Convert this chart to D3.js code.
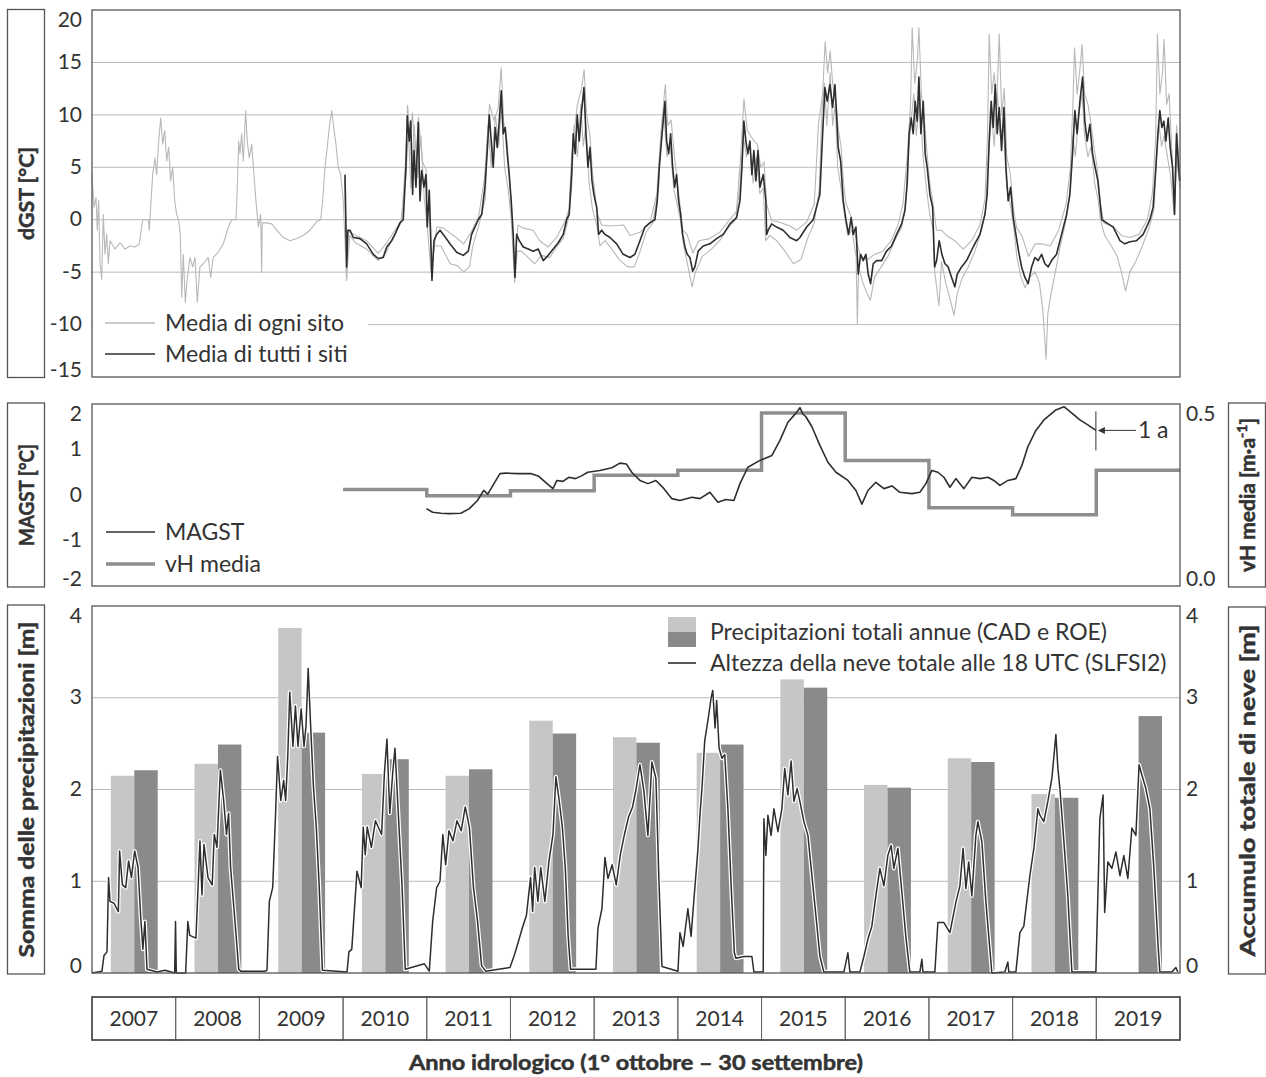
<!DOCTYPE html>
<html lang="it">
<head>
<meta charset="UTF-8" />
<title>dGST, MAGST, vH e precipitazioni 2007-2019</title>
<style>
  body { margin: 0; background: #fff; }
  svg { display: block; }
</style>
</head>
<body>
<svg id="chart" width="1266" height="1077"></svg>
<script src="https://cdn.jsdelivr.net/npm/d3@7"></script>
<script>
// ---- data (time = decimal calendar year, hydrological year starts 1 Oct) ----
const years = [2007, 2008, 2009, 2010, 2011, 2012, 2013, 2014, 2015, 2016, 2017, 2018, 2019];
const precipCAD = [2.15, 2.28, 3.76, 2.17, 2.15, 2.75, 2.57, 2.40, 3.20, 2.05, 2.34, 1.95, null];
const precipROE = [2.21, 2.49, 2.62, 2.33, 2.22, 2.61, 2.51, 2.49, 3.11, 2.02, 2.30, 1.91, 2.80];

const vhYears = [2010, 2011, 2012, 2013, 2014, 2015, 2016, 2017, 2018, 2019];
const vhMedia = [0.265, 0.248, 0.262, 0.304, 0.318, 0.475, 0.345, 0.215, 0.196, 0.318];

const dgstTicks = [-15, -10, -5, 0, 5, 10, 15, 20];
const magstTicks = [-2, -1, 0, 1, 2];
const vhTicks = [0, 0.5];
const precipTicks = [0, 1, 2, 3, 4];

// daily mean of one site (single record before 2009, then one of the sites)
const dgstSite1 = [
  [2006.750,4.3],[2006.774,1.2],[2006.798,2.1],[2006.813,-1.0],[2006.830,1.8],[2006.846,-4.2],[2006.866,-5.7],
  [2006.885,0.5],[2006.905,-3.3],[2006.926,-1.4],[2006.945,-4.2],[2006.965,-2.0],[2007.025,-2.8],[2007.085,-2.2],
  [2007.144,-2.8],[2007.204,-2.5],[2007.264,-2.6],[2007.315,-2.3],[2007.356,0],[2007.423,0],[2007.435,-1.0],
  [2007.451,1.2],[2007.475,4.3],[2007.503,5.9],[2007.523,4.3],[2007.547,7.5],[2007.571,9.7],[2007.595,7.2],
  [2007.619,8.5],[2007.642,5.6],[2007.666,6.9],[2007.690,3.7],[2007.714,5.0],[2007.738,1.8],[2007.762,0.5],
  [2007.786,-0.1],[2007.805,-1.4],[2007.822,-7.4],[2007.841,-3.3],[2007.865,-7.9],[2007.889,-5.5],[2007.921,-3.6],
  [2007.953,-4.5],[2007.981,-3.6],[2008.008,-7.9],[2008.040,-4.5],[2008.080,-4.2],[2008.139,-3.6],[2008.168,-5.5],
  [2008.199,-3.6],[2008.259,-3.1],[2008.319,-2.3],[2008.379,-0.7],[2008.419,0],[2008.470,0],[2008.486,3.1],
  [2008.503,7.5],[2008.518,6.3],[2008.538,8.2],[2008.558,5.6],[2008.586,10.4],[2008.605,7.5],[2008.629,5.9],
  [2008.658,7.2],[2008.685,4.3],[2008.709,1.8],[2008.737,-0.7],[2008.765,0.5],[2008.777,-5.0],[2008.785,-0.3],
  [2008.837,-0.3],[2008.897,-0.4],[2008.957,-1.0],[2009.035,-1.7],[2009.116,-2.0],[2009.196,-1.8],[2009.274,-1.5],
  [2009.354,-1.0],[2009.434,-0.2],[2009.482,0],[2009.506,1.8],[2009.534,5.0],[2009.561,6.9],[2009.585,8.8],
  [2009.614,10.4],[2009.638,8.8],[2009.665,7.2],[2009.692,5.0],[2009.721,4.3],[2009.752,1.8],[2009.793,-5.7],
  [2009.80,-1.0],[2009.90,-1.5],[2010.03,-2.0],[2010.17,-3.2],[2010.27,-2.2],[2010.37,-1.0],[2010.45,0],
  [2010.50,6],[2010.52,10.9],[2010.55,8],[2010.58,10.2],[2010.62,4],[2010.65,9.8],[2010.70,5.5],[2010.74,4.8],
  [2010.78,1],[2010.81,-4.5],[2010.87,-0.7],[2010.95,-0.8],[2011.10,-1.7],[2011.19,-2.3],[2011.28,-1.2],
  [2011.37,0.3],[2011.44,4],[2011.50,11],[2011.55,9.5],[2011.60,10.5],[2011.64,14.5],[2011.67,9.2],[2011.71,7.5],
  [2011.75,2.5],[2011.80,-4.8],[2011.84,-0.5],[2011.90,-0.8],[2012.02,-1.0],[2012.10,-2.0],[2012.20,-2.6],
  [2012.30,-1.7],[2012.40,-0.2],[2012.45,1],[2012.48,6],[2012.52,9],[2012.55,11],[2012.60,12.5],[2012.63,14.3],
  [2012.66,10],[2012.70,8],[2012.73,4.5],[2012.79,0.5],[2012.84,-0.5],[2012.94,-0.6],[2013.10,-0.5],[2013.18,-1.5],
  [2013.30,-1.2],[2013.42,-0.2],[2013.50,2.5],[2013.55,8.5],[2013.60,12.9],[2013.63,9],[2013.67,9.5],[2013.71,6],
  [2013.76,2.5],[2013.81,-1],[2013.86,-1.4],[2013.93,-3.2],[2014.00,-2.0],[2014.13,-1.8],[2014.25,-1.2],
  [2014.37,0],[2014.45,0.8],[2014.50,6],[2014.54,11.5],[2014.58,8.5],[2014.62,8],[2014.66,7.5],[2014.70,7.2],
  [2014.74,5],[2014.78,5.5],[2014.81,1.5],[2014.87,-0.1],[2014.95,-0.2],[2015.09,-0.6],[2015.17,-1.0],
  [2015.29,-0.2],[2015.38,1.5],[2015.43,9.1],[2015.48,12],[2015.51,17.0],[2015.54,14],[2015.57,16.1],
  [2015.60,13],[2015.64,11],[2015.67,8.5],[2015.70,7],[2015.73,3.5],[2015.76,1.5],[2015.81,0.5],[2015.87,-1.5],
  [2015.93,-3.5],[2016.02,-3.8],[2016.10,-3.3],[2016.20,-3.0],[2016.30,-2.0],[2016.38,-0.5],[2016.44,1.5],
  [2016.49,6],[2016.53,11],[2016.55,18.3],[2016.58,13],[2016.61,15],[2016.63,18.3],[2016.66,12],[2016.69,10],
  [2016.72,7],[2016.76,3.5],[2016.80,1.5],[2016.84,-1.0],[2016.90,-1.0],[2016.96,-1.5],[2017.06,-2.0],
  [2017.16,-2.8],[2017.26,-2.0],[2017.36,-0.5],[2017.42,2],[2017.45,8],[2017.47,17.7],[2017.50,12],[2017.53,14],
  [2017.56,11],[2017.59,17.7],[2017.62,10],[2017.65,12.5],[2017.68,6],[2017.72,4.5],[2017.76,1],[2017.80,-0.8],
  [2017.86,-1.5],[2017.94,-3.5],[2018.02,-2.3],[2018.10,-2.3],[2018.20,-2.5],[2018.30,-1.0],[2018.39,1.5],
  [2018.44,5],[2018.47,11],[2018.49,16.4],[2018.52,12],[2018.55,14],[2018.58,16.7],[2018.61,12],[2018.65,11],
  [2018.69,9],[2018.72,7],[2018.76,5],[2018.80,1.5],[2018.84,-0.3],[2018.95,-0.6],[2019.05,-1.5],[2019.15,-1.7],
  [2019.26,-1.4],[2019.36,0],[2019.42,2.5],[2019.46,8],[2019.48,17.7],[2019.51,12],[2019.54,14],[2019.56,17.2],
  [2019.59,11],[2019.62,12],[2019.65,7],[2019.68,2],[2019.71,9],[2019.748,4]
];

// a second (colder) site
const dgstSite2 = [
  [2009.77,4.0],[2009.79,-5.8],[2009.83,-1.5],[2009.90,-2.2],[2010.03,-2.8],[2010.17,-3.9],[2010.26,-3.2],
  [2010.35,-1.6],[2010.44,-0.3],[2010.50,4],[2010.53,8.5],[2010.56,3],[2010.60,9],[2010.64,4],[2010.68,8],
  [2010.72,2],[2010.76,-1],[2010.80,-5],[2010.84,-2.5],[2010.92,-2.5],[2011.03,-4.2],[2011.12,-4.4],
  [2011.19,-5.0],[2011.26,-4.5],[2011.30,-2.5],[2011.38,-0.3],[2011.45,2],[2011.48,9],[2011.52,5],[2011.57,10],
  [2011.61,7],[2011.64,11],[2011.68,5],[2011.72,3],[2011.76,0],[2011.80,-6.0],[2011.83,-3.0],[2011.88,-3.0],
  [2011.96,-3.6],[2012.04,-4.2],[2012.12,-3.4],[2012.22,-3.6],[2012.30,-2.6],[2012.38,-1.8],[2012.44,0],
  [2012.48,3],[2012.51,9],[2012.55,6],[2012.59,11],[2012.62,7],[2012.65,9],[2012.69,3.5],[2012.73,1],
  [2012.78,-0.5],[2012.82,-2.5],[2012.88,-2.0],[2012.96,-2.8],[2013.05,-3.8],[2013.15,-4.5],[2013.23,-4.5],
  [2013.30,-3.0],[2013.37,-1.2],[2013.45,-0.3],[2013.52,3],[2013.55,8],[2013.58,10.5],[2013.62,6],[2013.66,7],
  [2013.70,3],[2013.74,1.5],[2013.78,0],[2013.82,-2.5],[2013.88,-4.8],[2013.92,-6.4],[2013.96,-5.0],
  [2014.04,-3.5],[2014.15,-2.8],[2014.25,-2.0],[2014.35,-0.8],[2014.44,0],[2014.49,3],[2014.53,8],[2014.57,6],
  [2014.61,7],[2014.65,3.5],[2014.69,6],[2014.73,2.5],[2014.77,3],[2014.80,-2],[2014.85,-1.5],[2014.93,-2.0],
  [2015.03,-3.0],[2015.13,-4.2],[2015.22,-3.8],[2015.30,-1.8],[2015.38,-0.3],[2015.44,3],[2015.47,10],
  [2015.50,13],[2015.53,9],[2015.57,14],[2015.60,9],[2015.63,11],[2015.66,5],[2015.70,3],[2015.74,0.5],
  [2015.78,-1.5],[2015.83,-1.0],[2015.88,-3.5],[2015.895,-9.9],[2015.91,-4.5],[2015.96,-6.0],[2016.01,-7.0],
  [2016.05,-7.7],[2016.10,-5.5],[2016.18,-4.5],[2016.26,-3.5],[2016.34,-2.0],[2016.42,-0.8],[2016.47,1],
  [2016.50,6],[2016.53,9],[2016.57,12],[2016.60,8],[2016.64,12],[2016.68,6],[2016.72,3],[2016.76,0.5],
  [2016.80,-1],[2016.82,-5],[2016.87,-8.2],[2016.90,-4],[2016.95,-6],[2017.00,-7.5],[2017.05,-9.1],
  [2017.09,-7.0],[2017.15,-5.5],[2017.22,-4.5],[2017.30,-3.0],[2017.38,-1.0],[2017.43,1],[2017.46,6],
  [2017.50,10],[2017.53,7],[2017.57,12],[2017.60,8],[2017.64,9],[2017.68,3],[2017.72,1.5],[2017.76,-0.5],
  [2017.80,-3.5],[2017.85,-5.5],[2017.90,-6.5],[2017.95,-5.5],[2018.02,-5.0],[2018.07,-6.0],[2018.11,-8.5],
  [2018.15,-13.3],[2018.17,-9.0],[2018.21,-7.0],[2018.26,-5.0],[2018.32,-2.5],[2018.39,0],[2018.44,3],
  [2018.47,8],[2018.50,6],[2018.54,10],[2018.58,12],[2018.61,8],[2018.65,6],[2018.69,7],[2018.73,3.5],
  [2018.77,2],[2018.80,0],[2018.85,-1.5],[2018.93,-2.5],[2019.00,-3.5],[2019.05,-5.0],[2019.10,-6.8],
  [2019.15,-5.0],[2019.22,-4.0],[2019.30,-2.5],[2019.38,-0.8],[2019.44,1],[2019.47,6],[2019.50,9],[2019.53,7],
  [2019.56,8],[2019.60,6],[2019.64,4],[2019.68,0.5],[2019.71,6],[2019.748,3]
];

// mean of all sites
const dgstMean = [
  [2009.773,4.3],[2009.793,-4.5],[2009.808,-1.0],[2009.832,-1.0],[2009.872,-1.7],[2009.952,-1.8],[2010.032,-2.3],
  [2010.111,-3.3],[2010.170,-3.7],[2010.230,-3.6],[2010.271,-2.6],[2010.331,-2.0],[2010.370,-1.4],[2010.430,-0.3],
  [2010.469,0],[2010.501,5],[2010.517,9.9],[2010.541,7.5],[2010.558,9.4],[2010.581,2.4],[2010.597,6.6],
  [2010.621,3.1],[2010.648,9.3],[2010.669,1.8],[2010.689,4.7],[2010.716,3.1],[2010.740,4.3],[2010.756,-0.7],
  [2010.780,2.8],[2010.796,-1.4],[2010.812,-5.8],[2010.836,-2.0],[2010.868,-1.4],[2010.908,-1.0],[2010.947,-1.4],
  [2011.027,-2.3],[2011.107,-3.1],[2011.186,-3.4],[2011.246,-3.0],[2011.286,-1.4],[2011.365,0],[2011.406,0.5],
  [2011.445,3.1],[2011.473,6.6],[2011.497,10],[2011.520,7.5],[2011.544,5],[2011.568,8.8],[2011.592,6.9],
  [2011.616,9.4],[2011.640,12.3],[2011.664,8.2],[2011.688,8.8],[2011.712,6.3],[2011.735,4.3],[2011.759,1.8],
  [2011.783,-1.4],[2011.804,-5.5],[2011.824,-1.4],[2011.855,-2.0],[2011.903,-2.6],[2011.962,-2.8],[2012.022,-3.0],
  [2012.082,-2.8],[2012.142,-3.9],[2012.201,-3.4],[2012.261,-2.8],[2012.321,-2.2],[2012.381,-1.4],[2012.421,0],
  [2012.452,0.5],[2012.481,4.3],[2012.500,8.2],[2012.524,6.3],[2012.548,10],[2012.572,7.5],[2012.600,10.4],
  [2012.628,12.6],[2012.652,8.2],[2012.676,5],[2012.700,6.9],[2012.724,3.7],[2012.747,2.4],[2012.780,1.2],
  [2012.804,-1.4],[2012.839,-1.0],[2012.879,-1.4],[2012.939,-1.7],[2013.019,-2.3],[2013.097,-3.3],[2013.178,-3.6],
  [2013.237,-3.3],[2013.297,-2.0],[2013.357,-0.7],[2013.416,-0.3],[2013.476,0],[2013.504,1.8],[2013.528,5],
  [2013.551,7.2],[2013.575,9.4],[2013.596,11.3],[2013.616,7.5],[2013.640,6.3],[2013.664,8.2],[2013.688,5],
  [2013.712,3.1],[2013.735,4.3],[2013.759,1.8],[2013.783,0.5],[2013.807,-1.4],[2013.835,-2.6],[2013.862,-3.3],
  [2013.894,-3.6],[2013.927,-4.9],[2013.954,-4.5],[2013.993,-3.0],[2014.053,-2.5],[2014.133,-2.3],[2014.213,-1.8],
  [2014.292,-1.4],[2014.372,-0.4],[2014.452,0.2],[2014.492,1.8],[2014.516,5],[2014.539,9.4],[2014.563,7.5],
  [2014.587,6.3],[2014.611,7.5],[2014.635,4.3],[2014.659,6.6],[2014.683,3.7],[2014.707,6.6],[2014.731,3.1],
  [2014.770,4.3],[2014.802,1.8],[2014.811,-1.4],[2014.830,-1.0],[2014.870,-0.4],[2014.930,-0.7],[2015.009,-1.0],
  [2015.089,-1.7],[2015.169,-2.0],[2015.209,-1.7],[2015.289,-0.7],[2015.367,0],[2015.427,1.8],[2015.447,2.4],
  [2015.480,8.2],[2015.507,12.6],[2015.535,11.3],[2015.567,12.9],[2015.599,10.7],[2015.627,12.9],[2015.647,10],
  [2015.666,6.9],[2015.695,5.6],[2015.726,1.8],[2015.758,0],[2015.790,-1.4],[2015.821,0.2],[2015.845,-1.4],
  [2015.878,-0.7],[2015.905,-5.2],[2015.934,-3.3],[2015.965,-3.9],[2015.997,-3.3],[2016.025,-5.2],[2016.053,-6.1],
  [2016.084,-4.2],[2016.125,-3.9],[2016.185,-3.9],[2016.244,-3.0],[2016.304,-2.5],[2016.364,-1.4],[2016.424,-0.4],
  [2016.463,0.9],[2016.490,3.4],[2016.514,8.2],[2016.538,9.7],[2016.562,8.2],[2016.586,11.3],[2016.610,9.4],
  [2016.630,13.6],[2016.654,8.2],[2016.682,11.3],[2016.705,6.3],[2016.729,5],[2016.762,2.4],[2016.794,1.2],
  [2016.818,-4.5],[2016.842,-3.9],[2016.873,-2.0],[2016.905,-3.3],[2016.941,-4.2],[2016.980,-4.5],[2017.021,-5.5],
  [2017.060,-6.4],[2017.088,-5.2],[2017.140,-4.5],[2017.200,-3.9],[2017.279,-2.6],[2017.359,-1.4],[2017.419,0.5],
  [2017.446,2.4],[2017.470,7.5],[2017.494,11.3],[2017.518,8.8],[2017.542,12.9],[2017.566,8.2],[2017.590,10.7],
  [2017.618,6.6],[2017.646,10.7],[2017.670,5],[2017.697,1.8],[2017.726,3.1],[2017.757,0.2],[2017.789,-1.4],
  [2017.821,-3.0],[2017.857,-4.5],[2017.897,-5.5],[2017.936,-6.1],[2017.977,-4.5],[2018.016,-3.6],[2018.055,-3.9],
  [2018.096,-3.3],[2018.136,-4.2],[2018.175,-4.5],[2018.216,-3.9],[2018.275,-3.3],[2018.335,-1.4],[2018.395,0.5],
  [2018.434,2.4],[2018.466,6.3],[2018.494,10.4],[2018.521,8.2],[2018.554,11.3],[2018.586,13.6],[2018.613,9.4],
  [2018.641,7.5],[2018.673,9.1],[2018.705,6.3],[2018.736,5],[2018.769,3.7],[2018.793,1.8],[2018.816,0],
  [2018.873,-0.3],[2018.952,-0.7],[2019.032,-2.0],[2019.091,-2.3],[2019.151,-2.1],[2019.231,-2.0],[2019.310,-1.4],
  [2019.390,0],[2019.429,1.2],[2019.462,5],[2019.486,8.2],[2019.509,10.4],[2019.533,8.8],[2019.557,9.4],
  [2019.581,7.5],[2019.609,9.7],[2019.633,6.9],[2019.661,5],[2019.685,0.5],[2019.709,8.2],[2019.733,5],[2019.748,3.7]
];

const magst = [
  [2010.746,-0.30],[2010.820,-0.38],[2010.920,-0.40],[2011.015,-0.41],[2011.158,-0.40],[2011.259,-0.30],
  [2011.356,-0.12],[2011.430,0.10],[2011.479,0.02],[2011.553,0.25],[2011.624,0.47],[2011.696,0.48],
  [2011.839,0.47],[2011.990,0.47],[2012.088,0.41],[2012.186,0.25],[2012.258,0.14],[2012.305,0.32],
  [2012.377,0.30],[2012.449,0.39],[2012.526,0.36],[2012.599,0.42],[2012.673,0.50],[2012.819,0.54],
  [2012.962,0.60],[2013.058,0.70],[2013.136,0.68],[2013.199,0.50],[2013.258,0.39],[2013.297,0.32],
  [2013.393,0.25],[2013.488,0.32],[2013.584,0.14],[2013.679,-0.08],[2013.775,-0.12],[2013.918,-0.05],
  [2014.014,-0.08],[2014.133,0.06],[2014.229,-0.16],[2014.324,-0.10],[2014.420,-0.12],[2014.492,0.25],
  [2014.587,0.61],[2014.731,0.76],[2014.874,0.87],[2014.970,1.20],[2015.065,1.60],[2015.161,1.80],
  [2015.209,1.92],[2015.244,1.78],[2015.280,1.72],[2015.352,1.50],[2015.447,1.09],[2015.543,0.72],
  [2015.639,0.50],[2015.782,0.32],[2015.878,0.10],[2015.949,-0.20],[2016.021,0.10],[2016.116,0.28],
  [2016.212,0.14],[2016.308,0.20],[2016.403,0.06],[2016.547,0.03],[2016.642,0.06],[2016.714,0.25],
  [2016.785,0.54],[2016.857,0.50],[2016.929,0.39],[2017.001,0.17],[2017.072,0.36],[2017.168,0.14],
  [2017.263,0.39],[2017.359,0.36],[2017.455,0.39],[2017.526,0.32],[2017.598,0.21],[2017.694,0.32],
  [2017.789,0.36],[2017.861,0.65],[2017.932,1.06],[2018.028,1.42],[2018.124,1.65],[2018.267,1.87],
  [2018.363,1.94],[2018.458,1.80],[2018.554,1.65],[2018.649,1.54],[2018.745,1.42]
];

const snowDepth = [
  [2006.750,0],[2006.869,0.02],[2006.893,0.19],[2006.929,0.23],[2006.948,1.04],[2006.965,0.78],[2007.013,0.76],
  [2007.065,0.67],[2007.080,1.33],[2007.113,0.96],[2007.153,0.93],[2007.187,1.22],[2007.221,1.04],[2007.260,1.33],
  [2007.300,1.15],[2007.333,0.60],[2007.358,0.26],[2007.382,0.56],[2007.407,0.04],[2007.527,0.01],[2007.622,0.03],
  [2007.738,0],[2007.748,0.56],[2007.757,0],[2007.869,0],[2007.895,0.56],[2007.918,0.41],[2007.992,0.38],
  [2008.040,1.44],[2008.064,0.85],[2008.088,1.40],[2008.136,1.04],[2008.186,0.96],[2008.211,1.51],[2008.243,1.37],
  [2008.284,2.21],[2008.323,1.88],[2008.357,1.51],[2008.382,1.74],[2008.406,1.15],[2008.455,0.60],[2008.504,0.04],
  [2008.528,0.02],[2008.820,0.02],[2008.841,0.03],[2008.869,0.78],[2008.909,0.93],[2008.942,1.70],[2008.967,2.36],
  [2009.006,1.88],[2009.040,2.10],[2009.064,1.88],[2009.089,2.36],[2009.113,3.06],[2009.151,2.47],[2009.181,2.91],
  [2009.211,2.47],[2009.249,2.88],[2009.283,2.47],[2009.307,2.69],[2009.333,3.32],[2009.366,2.62],[2009.396,2.03],
  [2009.430,1.59],[2009.464,0.96],[2009.503,0.03],[2009.797,0.01],[2009.820,0.23],[2009.854,0.26],[2009.916,1.11],
  [2009.966,0.93],[2009.991,1.59],[2010.015,1.29],[2010.039,1.59],[2010.088,1.37],[2010.137,1.66],[2010.210,1.51],
  [2010.244,2.18],[2010.274,2.55],[2010.308,1.74],[2010.343,2.18],[2010.370,2.45],[2010.406,1.81],[2010.454,0.96],
  [2010.493,0.04],[2010.722,0.10],[2010.780,0.02],[2010.820,0.56],[2010.868,0.93],[2010.908,1.00],[2010.942,1.51],
  [2010.976,1.18],[2011.015,1.55],[2011.063,1.44],[2011.111,1.66],[2011.161,1.55],[2011.210,1.81],[2011.259,1.59],
  [2011.308,0.93],[2011.357,0.56],[2011.405,0.08],[2011.454,0.02],[2011.744,0.06],[2011.795,0.19],[2011.844,0.34],
  [2011.892,0.49],[2011.941,0.63],[2011.990,1.04],[2012.015,0.67],[2012.039,1.15],[2012.078,0.78],[2012.112,1.15],
  [2012.161,0.78],[2012.210,1.22],[2012.258,1.51],[2012.293,2.14],[2012.332,1.88],[2012.370,1.59],[2012.405,1.15],
  [2012.439,0.41],[2012.468,0.04],[2012.771,0.04],[2012.795,0.49],[2012.843,0.70],[2012.879,1.26],[2012.915,1.03],
  [2012.965,1.18],[2013.014,0.96],[2013.063,1.29],[2013.112,1.51],[2013.161,1.70],[2013.209,1.81],[2013.250,2.00],
  [2013.297,2.27],[2013.345,1.98],[2013.392,1.50],[2013.440,2.30],[2013.488,2.12],[2013.526,0.95],[2013.560,0.07],
  [2013.751,0.02],[2013.775,0.44],[2013.813,0.29],[2013.870,0.70],[2013.908,0.40],[2013.942,0.80],[2013.990,1.35],
  [2014.014,1.72],[2014.038,2.01],[2014.071,2.53],[2014.109,2.75],[2014.148,3.00],[2014.167,3.08],[2014.195,2.67],
  [2014.214,2.97],[2014.243,2.45],[2014.277,2.34],[2014.310,2.38],[2014.348,1.79],[2014.387,0.95],[2014.425,0.22],
  [2014.444,0.16],[2014.540,0.18],[2014.635,0.18],[2014.659,0.01],[2014.770,0.01],[2014.778,1.68],[2014.802,1.28],
  [2014.826,1.72],[2014.864,1.50],[2014.898,1.79],[2014.946,1.54],[2014.993,1.79],[2015.027,2.23],[2015.065,1.94],
  [2015.103,2.31],[2015.137,1.87],[2015.175,2.01],[2015.208,1.87],[2015.256,1.65],[2015.304,1.50],[2015.328,1.28],
  [2015.376,0.84],[2015.448,0.18],[2015.495,0.01],[2015.734,0.01],[2015.782,0.22],[2015.806,0.01],[2015.925,0.01],
  [2015.973,0.18],[2016.021,0.37],[2016.068,0.51],[2016.116,0.84],[2016.164,1.14],[2016.212,0.95],[2016.259,1.28],
  [2016.298,1.39],[2016.331,1.14],[2016.379,1.36],[2016.427,0.88],[2016.474,0.40],[2016.522,0.01],[2016.642,0.01],
  [2016.666,0.15],[2016.678,0.01],[2016.821,0.01],[2016.857,0.55],[2016.929,0.55],[2017.001,0.44],[2017.072,0.77],
  [2017.120,0.95],[2017.158,1.36],[2017.192,0.92],[2017.225,1.21],[2017.263,0.84],[2017.311,1.50],[2017.335,1.65],
  [2017.383,1.43],[2017.431,0.77],[2017.502,0],[2017.657,0.01],[2017.693,0.12],[2017.705,0.01],[2017.789,0.01],
  [2017.837,0.44],[2017.884,0.51],[2017.956,1.06],[2018.004,1.36],[2018.052,1.79],[2018.076,1.72],[2018.123,1.65],
  [2018.171,1.87],[2018.219,2.12],[2018.267,2.60],[2018.291,2.23],[2018.315,2.01],[2018.363,1.43],[2018.410,0.84],
  [2018.458,0.01],[2018.745,0.01],[2018.792,1.68],[2018.831,1.94],[2018.850,0.66],[2018.888,1.21],[2018.936,1.14],
  [2018.984,1.32],[2019.032,1.06],[2019.079,1.28],[2019.127,1.03],[2019.175,1.58],[2019.223,1.50],[2019.261,2.27],
  [2019.294,2.16],[2019.342,2.01],[2019.390,1.79],[2019.438,1.14],[2019.486,0.33],[2019.509,0.01],[2019.653,0.01],
  [2019.701,0.06],[2019.724,0.01]
];

// ---- layout ----
const FONT = "Lato, 'Open Sans', sans-serif";
const TXT = "#333";
const X0 = 92, X1 = 1180;
const topP = [10, 377], midP = [404, 586], botP = [606, 973];

const svg = d3.select("#chart");

const x = d3.scaleLinear().domain([2006.75, 2019.75]).range([X0, X1]);
const yT = d3.scaleLinear().domain([-15, 20]).range([topP[1], topP[0]]);
const yM = d3.scaleLinear().domain([-2, 2]).range([midP[1], midP[0]]);
const yV = d3.scaleLinear().domain([0, 0.5]).range([midP[1], midP[0]]);
const yB = d3.scaleLinear().domain([0, 4]).range([botP[1], botP[0]]);
const xBand = d3.scaleBand().domain(years).range([X0, X1]);
const bw = xBand.bandwidth();
const xSub = d3.scaleBand().domain(["CAD", "ROE"]).range([bw * 0.225, bw * 0.785]);

function grid(scale, values) {
  svg.append("g").selectAll("line").data(values).join("line")
    .attr("x1", X0).attr("x2", X1)
    .attr("y1", d => scale(d)).attr("y2", d => scale(d))
    .attr("stroke", "#b9b9b9").attr("stroke-width", 1);
}

function axis(gen, scale, ticks, fmt, xPos, range) {
  const g = svg.append("g").attr("transform", `translate(${xPos},0)`)
    .call(gen(scale).tickValues(ticks).tickSize(0).tickPadding(gen === d3.axisLeft ? 10 : 6).tickFormat(fmt));
  g.select(".domain").remove();
  // keep the end labels inside the frame
  g.selectAll(".tick").attr("transform", d =>
    `translate(0,${Math.max(range[0] + 10, Math.min(range[1] - 7, scale(d)))})`);
  g.selectAll("text").attr("font-family", FONT).attr("font-size", 21).attr("fill", TXT);
}

function frame(range) {
  svg.append("rect").attr("x", X0).attr("y", range[0])
    .attr("width", X1 - X0).attr("height", range[1] - range[0])
    .attr("fill", "none").attr("stroke", "#555").attr("stroke-width", 1.3);
}

function boldText(sel, size) {
  return sel.attr("font-family", FONT).attr("font-size", size).attr("font-weight", 700)
    .attr("fill", TXT).attr("stroke", TXT).attr("stroke-width", 0.5);
}

function sideLabel(cx, y0, y1, label, len, sup) {
  svg.append("rect").attr("x", cx - 18.5).attr("y", y0).attr("width", 37).attr("height", y1 - y0)
    .attr("fill", "none").attr("stroke", "#555").attr("stroke-width", 1.3);
  const t = boldText(svg.append("text")
    .attr("transform", `translate(${cx},${(y0 + y1) / 2}) rotate(-90)`)
    .attr("text-anchor", "middle").attr("dy", "0.36em"), 21);
  if (len) t.attr("textLength", len).attr("lengthAdjust", "spacingAndGlyphs");
  t.append("tspan").text(label);
  if (sup) {
    t.append("tspan").attr("dy", -8).attr("font-size", 14).text(sup);
    t.append("tspan").attr("dy", 8).text("]");
  }
}

function legendText(xp, yp, s) {
  svg.append("text").attr("x", xp).attr("y", yp).attr("dy", "0.35em")
    .attr("font-family", FONT).attr("font-size", 23).attr("fill", TXT).text(s);
}

// ---- top panel: dGST ----
grid(yT, [-10, -5, 0, 5, 10, 15]);
const lineT = d3.line().x(d => x(d[0])).y(d => yT(d[1]));
[dgstSite2, dgstSite1].forEach(s => {
  svg.append("path").datum(s).attr("d", lineT)
    .attr("fill", "none").attr("stroke", "#b8b8b8").attr("stroke-width", 1.1).attr("stroke-linejoin", "round");
});
svg.append("path").datum(dgstMean).attr("d", lineT)
  .attr("fill", "none").attr("stroke", "#2e2e2e").attr("stroke-width", 1.6).attr("stroke-linejoin", "round");

// legend
svg.append("rect").attr("x", X0 + 1).attr("y", 308).attr("width", 275).attr("height", 62).attr("fill", "#fff");
svg.append("line").attr("x1", 105).attr("x2", 155).attr("y1", 323).attr("y2", 323).attr("stroke", "#b8b8b8").attr("stroke-width", 1.3);
legendText(165, 323, "Media di ogni sito");
svg.append("line").attr("x1", 105).attr("x2", 155).attr("y1", 354).attr("y2", 354).attr("stroke", "#2e2e2e").attr("stroke-width", 1.6);
legendText(165, 354, "Media di tutti i siti");

frame(topP);
axis(d3.axisLeft, yT, dgstTicks, d => String(d), X0, topP);
sideLabel(26, 9.5, 377.5, "dGST [°C]", 93);

// ---- middle panel: MAGST and vH ----
// each hydrological year runs from 1 Oct of the previous calendar year
const vhSteps = vhYears.map((yr, i) => [yr - 0.25, vhMedia[i]]);
vhSteps.push([vhYears[vhYears.length - 1] + 0.75, vhMedia[vhMedia.length - 1]]);
svg.append("path").datum(vhSteps)
  .attr("d", d3.line().curve(d3.curveStepAfter).x(d => x(d[0])).y(d => yV(d[1])))
  .attr("fill", "none").attr("stroke", "#8e8e8e").attr("stroke-width", 3.5);
svg.append("path").datum(magst)
  .attr("d", d3.line().x(d => x(d[0])).y(d => yM(d[1])))
  .attr("fill", "none").attr("stroke", "#2e2e2e").attr("stroke-width", 1.6).attr("stroke-linejoin", "round");

// one-year window marker
const last = magst[magst.length - 1];
const mx = x(last[0]), my = yM(last[1]);
svg.append("line").attr("x1", mx).attr("x2", mx).attr("y1", my - 19).attr("y2", my + 20).attr("stroke", "#333").attr("stroke-width", 1);
svg.append("line").attr("x1", mx + 4).attr("x2", mx + 40).attr("y1", my).attr("y2", my).attr("stroke", "#333").attr("stroke-width", 1);
svg.append("path").attr("d", `M${mx + 2},${my} l7,-3.5 l0,7 z`).attr("fill", "#333");
legendText(mx + 42, my, "1 a");

svg.append("line").attr("x1", 106).attr("x2", 155).attr("y1", 532).attr("y2", 532).attr("stroke", "#2e2e2e").attr("stroke-width", 1.6);
legendText(165, 532, "MAGST");
svg.append("line").attr("x1", 106).attr("x2", 155).attr("y1", 564).attr("y2", 564).attr("stroke", "#8e8e8e").attr("stroke-width", 3.5);
legendText(165, 564, "vH media");

frame(midP);
axis(d3.axisLeft, yM, magstTicks, d => String(d), X0, midP);
axis(d3.axisRight, yV, vhTicks, d => d.toFixed(1), X1, midP);
sideLabel(26, 403, 587, "MAGST [°C]", 102);
sideLabel(1247, 403, 587, "vH media [m·a", null, "-1");

// ---- bottom panel: precipitation and snow ----
grid(yB, [1, 2, 3]);
const bars = svg.append("g");
bars.selectAll(".cad").data(years.map((yr, i) => [yr, precipCAD[i]]).filter(d => d[1] != null)).join("rect")
  .attr("x", d => xBand(d[0]) + xSub("CAD")).attr("width", xSub.bandwidth())
  .attr("y", d => yB(d[1])).attr("height", d => yB(0) - yB(d[1])).attr("fill", "#c6c6c6");
bars.selectAll(".roe").data(years.map((yr, i) => [yr, precipROE[i]])).join("rect")
  .attr("x", d => xBand(d[0]) + xSub("ROE")).attr("width", xSub.bandwidth())
  .attr("y", d => yB(d[1])).attr("height", d => yB(0) - yB(d[1])).attr("fill", "#8a8a8a");

const lineB = d3.line().x(d => x(d[0])).y(d => yB(d[1]));
svg.append("path").datum(snowDepth).attr("d", lineB)
  .attr("fill", "none").attr("stroke", "#fff").attr("stroke-width", 4).attr("stroke-linejoin", "round");
svg.append("path").datum(snowDepth).attr("d", lineB)
  .attr("fill", "none").attr("stroke", "#2e2e2e").attr("stroke-width", 1.5).attr("stroke-linejoin", "round");

svg.append("rect").attr("x", 668).attr("y", 617).attr("width", 28).attr("height", 15).attr("fill", "#c6c6c6");
svg.append("rect").attr("x", 668).attr("y", 632).attr("width", 28).attr("height", 15).attr("fill", "#8a8a8a");
legendText(710, 632, "Precipitazioni totali annue (CAD e ROE)");
svg.append("line").attr("x1", 668).attr("x2", 696).attr("y1", 663).attr("y2", 663).attr("stroke", "#2e2e2e").attr("stroke-width", 1.6);
legendText(710, 663, "Altezza della neve totale alle 18 UTC (SLFSI2)");

frame(botP);
axis(d3.axisLeft, yB, precipTicks, d => String(d), X0, botP);
axis(d3.axisRight, yB, precipTicks, d => String(d), X1, botP);
sideLabel(26, 605, 974, "Somma delle precipitazioni [m]", 336);
sideLabel(1247, 607, 974, "Accumulo totale di neve [m]", 332);

// ---- hydrological year table ----
const table = svg.append("g");
table.selectAll("rect").data(years).join("rect")
  .attr("x", d => xBand(d)).attr("y", 997).attr("width", bw).attr("height", 43)
  .attr("fill", "none").attr("stroke", "#666").attr("stroke-width", 1);
table.append("rect").attr("x", X0).attr("y", 997).attr("width", X1 - X0).attr("height", 43)
  .attr("fill", "none").attr("stroke", "#444").attr("stroke-width", 1.5);
table.selectAll("text").data(years).join("text")
  .attr("x", d => xBand(d) + bw / 2).attr("y", 1019).attr("dy", "0.35em").attr("text-anchor", "middle")
  .attr("font-family", FONT).attr("font-size", 21).attr("fill", TXT).text(d => d);

boldText(svg.append("text").attr("x", 636).attr("y", 1063).attr("dy", "0.35em").attr("text-anchor", "middle"), 21)
  .attr("textLength", 454).attr("lengthAdjust", "spacingAndGlyphs")
  .text("Anno idrologico (1° ottobre – 30 settembre)");
</script>
</body>
</html>
